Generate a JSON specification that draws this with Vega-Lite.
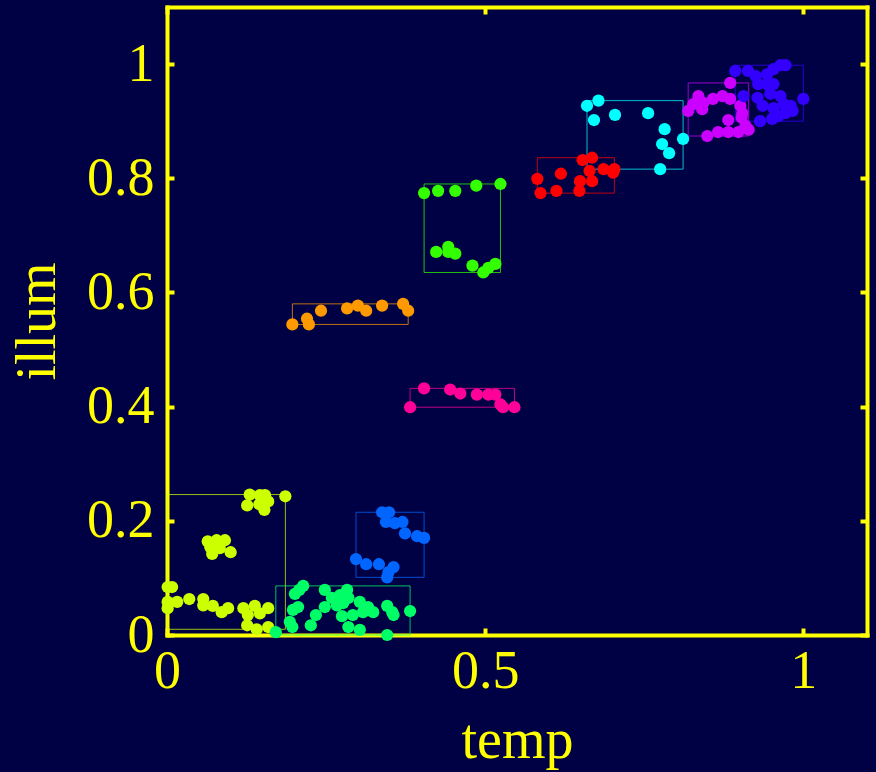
{
  "$schema": "https://vega.github.io/schema/vega-lite/v6.json",
  "autosize": {"type": "none"},
  "width": 700,
  "height": 628,
  "padding": {"left": 167, "top": 7, "right": 9, "bottom": 137},
  "background": "#000044",
  "config": {
    "view": {"stroke": null, "fill": "#000044"},
    "axis": {
      "domain": true,
      "domainColor": "#ffff00",
      "domainWidth": 4,
      "domainCap": "square",
      "grid": false,
      "ticks": true,
      "tickSize": -7,
      "tickWidth": 4,
      "tickColor": "#ffff00",
      "labelColor": "#ffff00",
      "titleColor": "#ffff00",
      "labelFont": "Liberation Serif",
      "titleFont": "Liberation Serif",
      "labelFontSize": 54,
      "titleFontSize": 56,
      "titleFontWeight": "normal",
      "labelFlush": false,
      "labelOverlap": false
    }
  },
  "resolve": {"axis": {"x": "independent", "y": "independent"}},
  "data": {
    "values": [
      {"cluster": "c1", "temp": 0.130, "illum": 0.246},
      {"cluster": "c1", "temp": 0.126, "illum": 0.227},
      {"cluster": "c1", "temp": 0.146, "illum": 0.245},
      {"cluster": "c1", "temp": 0.154, "illum": 0.245},
      {"cluster": "c1", "temp": 0.159, "illum": 0.234},
      {"cluster": "c1", "temp": 0.153, "illum": 0.219},
      {"cluster": "c1", "temp": 0.145, "illum": 0.229},
      {"cluster": "c1", "temp": 0.186, "illum": 0.243},
      {"cluster": "c1", "temp": 0.064, "illum": 0.164},
      {"cluster": "c1", "temp": 0.078, "illum": 0.166},
      {"cluster": "c1", "temp": 0.091, "illum": 0.166},
      {"cluster": "c1", "temp": 0.071, "illum": 0.142},
      {"cluster": "c1", "temp": 0.083, "illum": 0.152},
      {"cluster": "c1", "temp": 0.100, "illum": 0.145},
      {"cluster": "c1", "temp": 0.068, "illum": 0.154},
      {"cluster": "c1", "temp": 0.008, "illum": 0.084},
      {"cluster": "c1", "temp": 0.001, "illum": 0.084},
      {"cluster": "c1", "temp": 0.001, "illum": 0.058},
      {"cluster": "c1", "temp": 0.016, "illum": 0.058},
      {"cluster": "c1", "temp": 0.001, "illum": 0.047},
      {"cluster": "c1", "temp": 0.035, "illum": 0.063},
      {"cluster": "c1", "temp": 0.057, "illum": 0.063},
      {"cluster": "c1", "temp": 0.057, "illum": 0.052},
      {"cluster": "c1", "temp": 0.072, "illum": 0.051},
      {"cluster": "c1", "temp": 0.086, "illum": 0.040},
      {"cluster": "c1", "temp": 0.096, "illum": 0.047},
      {"cluster": "c1", "temp": 0.120, "illum": 0.047},
      {"cluster": "c1", "temp": 0.138, "illum": 0.051},
      {"cluster": "c1", "temp": 0.159, "illum": 0.047},
      {"cluster": "c1", "temp": 0.146, "illum": 0.038},
      {"cluster": "c1", "temp": 0.127, "illum": 0.035},
      {"cluster": "c1", "temp": 0.126, "illum": 0.017},
      {"cluster": "c1", "temp": 0.141, "illum": 0.010},
      {"cluster": "c1", "temp": 0.159, "illum": 0.014},
      {"cluster": "c2", "temp": 0.214, "illum": 0.086},
      {"cluster": "c2", "temp": 0.201, "illum": 0.072},
      {"cluster": "c2", "temp": 0.208, "illum": 0.079},
      {"cluster": "c2", "temp": 0.206, "illum": 0.049},
      {"cluster": "c2", "temp": 0.198, "illum": 0.044},
      {"cluster": "c2", "temp": 0.193, "illum": 0.023},
      {"cluster": "c2", "temp": 0.197, "illum": 0.014},
      {"cluster": "c2", "temp": 0.171, "illum": 0.005},
      {"cluster": "c2", "temp": 0.234, "illum": 0.035},
      {"cluster": "c2", "temp": 0.226, "illum": 0.017},
      {"cluster": "c2", "temp": 0.248, "illum": 0.079},
      {"cluster": "c2", "temp": 0.248, "illum": 0.049},
      {"cluster": "c2", "temp": 0.259, "illum": 0.065},
      {"cluster": "c2", "temp": 0.272, "illum": 0.070},
      {"cluster": "c2", "temp": 0.283, "illum": 0.079},
      {"cluster": "c2", "temp": 0.267, "illum": 0.052},
      {"cluster": "c2", "temp": 0.277, "illum": 0.056},
      {"cluster": "c2", "temp": 0.275, "illum": 0.033},
      {"cluster": "c2", "temp": 0.285, "illum": 0.065},
      {"cluster": "c2", "temp": 0.292, "illum": 0.035},
      {"cluster": "c2", "temp": 0.303, "illum": 0.058},
      {"cluster": "c2", "temp": 0.308, "illum": 0.040},
      {"cluster": "c2", "temp": 0.316, "illum": 0.049},
      {"cluster": "c2", "temp": 0.324, "illum": 0.040},
      {"cluster": "c2", "temp": 0.346, "illum": 0.051},
      {"cluster": "c2", "temp": 0.354, "illum": 0.040},
      {"cluster": "c2", "temp": 0.356, "illum": 0.035},
      {"cluster": "c2", "temp": 0.382, "illum": 0.042},
      {"cluster": "c2", "temp": 0.285, "illum": 0.014},
      {"cluster": "c2", "temp": 0.303, "illum": 0.009},
      {"cluster": "c2", "temp": 0.346, "illum": 0.000},
      {"cluster": "c3", "temp": 0.338, "illum": 0.215},
      {"cluster": "c3", "temp": 0.349, "illum": 0.215},
      {"cluster": "c3", "temp": 0.344, "illum": 0.198},
      {"cluster": "c3", "temp": 0.358, "illum": 0.196},
      {"cluster": "c3", "temp": 0.370, "illum": 0.198},
      {"cluster": "c3", "temp": 0.374, "illum": 0.178},
      {"cluster": "c3", "temp": 0.393, "illum": 0.173},
      {"cluster": "c3", "temp": 0.404, "illum": 0.170},
      {"cluster": "c3", "temp": 0.297, "illum": 0.133},
      {"cluster": "c3", "temp": 0.313, "illum": 0.124},
      {"cluster": "c3", "temp": 0.333, "illum": 0.124},
      {"cluster": "c3", "temp": 0.356, "illum": 0.119},
      {"cluster": "c3", "temp": 0.346, "illum": 0.101},
      {"cluster": "c3", "temp": 0.348, "illum": 0.110},
      {"cluster": "c4", "temp": 0.197, "illum": 0.544},
      {"cluster": "c4", "temp": 0.220, "illum": 0.554},
      {"cluster": "c4", "temp": 0.223, "illum": 0.544},
      {"cluster": "c4", "temp": 0.242, "illum": 0.568},
      {"cluster": "c4", "temp": 0.283, "illum": 0.572},
      {"cluster": "c4", "temp": 0.300, "illum": 0.577},
      {"cluster": "c4", "temp": 0.313, "illum": 0.568},
      {"cluster": "c4", "temp": 0.338, "illum": 0.577},
      {"cluster": "c4", "temp": 0.371, "illum": 0.580},
      {"cluster": "c4", "temp": 0.379, "illum": 0.568},
      {"cluster": "c5", "temp": 0.382, "illum": 0.399},
      {"cluster": "c5", "temp": 0.404, "illum": 0.432},
      {"cluster": "c5", "temp": 0.445, "illum": 0.430},
      {"cluster": "c5", "temp": 0.461, "illum": 0.423},
      {"cluster": "c5", "temp": 0.487, "illum": 0.421},
      {"cluster": "c5", "temp": 0.505, "illum": 0.421},
      {"cluster": "c5", "temp": 0.516, "illum": 0.421},
      {"cluster": "c5", "temp": 0.524, "illum": 0.404},
      {"cluster": "c5", "temp": 0.528, "illum": 0.399},
      {"cluster": "c5", "temp": 0.546, "illum": 0.399},
      {"cluster": "c6", "temp": 0.404, "illum": 0.774},
      {"cluster": "c6", "temp": 0.426, "illum": 0.778},
      {"cluster": "c6", "temp": 0.453, "illum": 0.778},
      {"cluster": "c6", "temp": 0.486, "illum": 0.787},
      {"cluster": "c6", "temp": 0.524, "illum": 0.790},
      {"cluster": "c6", "temp": 0.423, "illum": 0.671},
      {"cluster": "c6", "temp": 0.442, "illum": 0.680},
      {"cluster": "c6", "temp": 0.442, "illum": 0.671},
      {"cluster": "c6", "temp": 0.453, "illum": 0.668},
      {"cluster": "c6", "temp": 0.480, "illum": 0.647},
      {"cluster": "c6", "temp": 0.516, "illum": 0.650},
      {"cluster": "c6", "temp": 0.505, "illum": 0.643},
      {"cluster": "c6", "temp": 0.497, "illum": 0.635},
      {"cluster": "c7", "temp": 0.582, "illum": 0.799},
      {"cluster": "c7", "temp": 0.587, "illum": 0.774},
      {"cluster": "c7", "temp": 0.612, "illum": 0.778},
      {"cluster": "c7", "temp": 0.619, "illum": 0.808},
      {"cluster": "c7", "temp": 0.653, "illum": 0.832},
      {"cluster": "c7", "temp": 0.668, "illum": 0.836},
      {"cluster": "c7", "temp": 0.664, "illum": 0.813},
      {"cluster": "c7", "temp": 0.649, "illum": 0.795},
      {"cluster": "c7", "temp": 0.668, "illum": 0.795},
      {"cluster": "c7", "temp": 0.648, "illum": 0.778},
      {"cluster": "c7", "temp": 0.686, "illum": 0.816},
      {"cluster": "c7", "temp": 0.703, "illum": 0.816},
      {"cluster": "c7", "temp": 0.701, "illum": 0.810},
      {"cluster": "c8", "temp": 0.660, "illum": 0.927},
      {"cluster": "c8", "temp": 0.678, "illum": 0.936},
      {"cluster": "c8", "temp": 0.671, "illum": 0.902},
      {"cluster": "c8", "temp": 0.704, "illum": 0.911},
      {"cluster": "c8", "temp": 0.756, "illum": 0.914},
      {"cluster": "c8", "temp": 0.782, "illum": 0.886},
      {"cluster": "c8", "temp": 0.811, "illum": 0.869},
      {"cluster": "c8", "temp": 0.778, "illum": 0.860},
      {"cluster": "c8", "temp": 0.789, "illum": 0.844},
      {"cluster": "c8", "temp": 0.775, "illum": 0.816},
      {"cluster": "c9", "temp": 0.885, "illum": 0.967},
      {"cluster": "c9", "temp": 0.819, "illum": 0.918},
      {"cluster": "c9", "temp": 0.827, "illum": 0.930},
      {"cluster": "c9", "temp": 0.835, "illum": 0.944},
      {"cluster": "c9", "temp": 0.843, "illum": 0.932},
      {"cluster": "c9", "temp": 0.841, "illum": 0.921},
      {"cluster": "c9", "temp": 0.858, "illum": 0.939},
      {"cluster": "c9", "temp": 0.873, "illum": 0.944},
      {"cluster": "c9", "temp": 0.885, "illum": 0.939},
      {"cluster": "c9", "temp": 0.901, "illum": 0.927},
      {"cluster": "c9", "temp": 0.904, "illum": 0.914},
      {"cluster": "c9", "temp": 0.903, "illum": 0.906},
      {"cluster": "c9", "temp": 0.882, "illum": 0.902},
      {"cluster": "c9", "temp": 0.849, "illum": 0.874},
      {"cluster": "c9", "temp": 0.866, "illum": 0.881},
      {"cluster": "c9", "temp": 0.882, "illum": 0.881},
      {"cluster": "c9", "temp": 0.898, "illum": 0.881},
      {"cluster": "c9", "temp": 0.914, "illum": 0.885},
      {"cluster": "c9", "temp": 0.909, "illum": 0.892},
      {"cluster": "c10", "temp": 0.893, "illum": 0.988},
      {"cluster": "c10", "temp": 0.913, "illum": 0.988},
      {"cluster": "c10", "temp": 0.925, "illum": 0.979},
      {"cluster": "c10", "temp": 0.943, "illum": 0.982},
      {"cluster": "c10", "temp": 0.953, "illum": 0.991},
      {"cluster": "c10", "temp": 0.964, "illum": 0.998},
      {"cluster": "c10", "temp": 0.972, "illum": 0.998},
      {"cluster": "c10", "temp": 0.929, "illum": 0.965},
      {"cluster": "c10", "temp": 0.943, "illum": 0.965},
      {"cluster": "c10", "temp": 0.953, "illum": 0.965},
      {"cluster": "c10", "temp": 0.906, "illum": 0.944},
      {"cluster": "c10", "temp": 0.928, "illum": 0.941},
      {"cluster": "c10", "temp": 0.948, "illum": 0.948},
      {"cluster": "c10", "temp": 0.964, "illum": 0.944},
      {"cluster": "c10", "temp": 1.000, "illum": 0.939},
      {"cluster": "c10", "temp": 0.936, "illum": 0.927},
      {"cluster": "c10", "temp": 0.953, "illum": 0.923},
      {"cluster": "c10", "temp": 0.969, "illum": 0.930},
      {"cluster": "c10", "temp": 0.980, "illum": 0.927},
      {"cluster": "c10", "temp": 0.983, "illum": 0.918},
      {"cluster": "c10", "temp": 0.932, "illum": 0.900},
      {"cluster": "c10", "temp": 0.951, "illum": 0.904},
      {"cluster": "c10", "temp": 0.961, "illum": 0.909},
      {"cluster": "c10", "temp": 0.972, "illum": 0.914}
    ]
  },
  "layer": [
    {
      "transform": [
        {"aggregate": [
          {"op": "min", "field": "temp", "as": "tmin"},
          {"op": "max", "field": "temp", "as": "tmax"},
          {"op": "min", "field": "illum", "as": "imin"},
          {"op": "max", "field": "illum", "as": "imax"}
        ], "groupby": ["cluster"]}
      ],
      "mark": {"type": "rect", "filled": false, "strokeWidth": 1, "strokeOpacity": 0.75},
      "encoding": {
        "x": {"field": "tmin", "type": "quantitative", "scale": {"domain": [0, 1.1], "nice": false, "zero": false},
          "axis": {"orient": "top", "values": [0, 0.5, 1], "labels": false, "title": null}},
        "x2": {"field": "tmax"},
        "y": {"field": "imin", "type": "quantitative", "scale": {"domain": [0, 1.1], "nice": false, "zero": false},
          "axis": {"orient": "right", "values": [0, 0.2, 0.4, 0.6, 0.8, 1], "labels": false, "title": null}},
        "y2": {"field": "imax"},
        "stroke": {"field": "cluster", "type": "nominal", "legend": null,
          "scale": {"domain": ["c1","c2","c3","c4","c5","c6","c7","c8","c9","c10"],
                    "range": ["#ccff00","#00ff66","#0066ff","#ff9900","#ff0099","#33ff00","#ff0000","#00ffff","#cc00ff","#3300ff"]}}
      }
    },
    {
      "mark": {"type": "circle", "size": 150, "opacity": 1},
      "encoding": {
        "x": {"field": "temp", "type": "quantitative", "scale": {"domain": [0, 1.1], "nice": false, "zero": false},
          "title": "temp",
          "axis": {"orient": "bottom", "values": [0, 0.5, 1], "format": "~g", "labelPadding": 16, "titlePadding": 15}},
        "y": {"field": "illum", "type": "quantitative", "scale": {"domain": [0, 1.1], "nice": false, "zero": false},
          "title": "illum",
          "axis": {"orient": "left", "values": [0, 0.2, 0.4, 0.6, 0.8, 1], "format": "~g", "labelPadding": 20, "titlePadding": 20}},
        "color": {"field": "cluster", "type": "nominal", "legend": null,
          "scale": {"domain": ["c1","c2","c3","c4","c5","c6","c7","c8","c9","c10"],
                    "range": ["#ccff00","#00ff66","#0066ff","#ff9900","#ff0099","#33ff00","#ff0000","#00ffff","#cc00ff","#3300ff"]}}
      }
    }
  ]
}
